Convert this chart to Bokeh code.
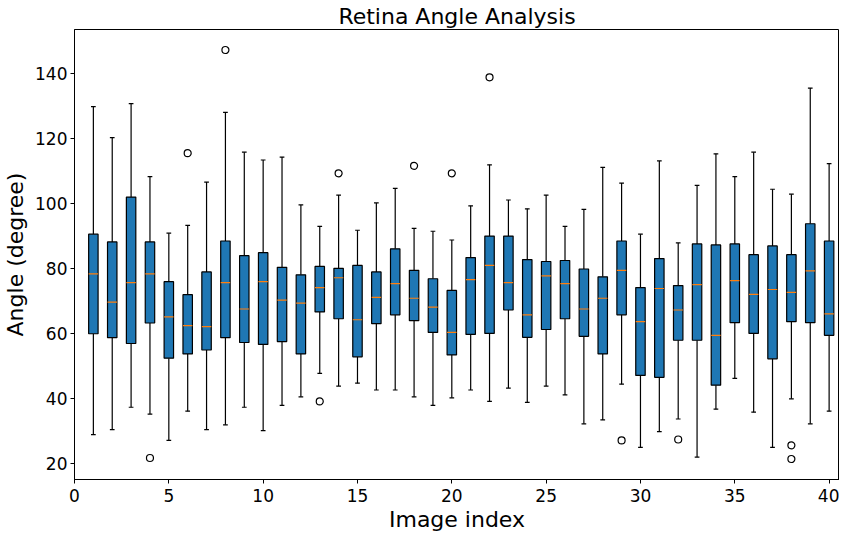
from bokeh.plotting import figure
from bokeh.models import Range1d, FixedTicker, Title
from bokeh.embed import file_html
from bokeh.resources import INLINE

positions = list(range(1, 41))
whisker_low = [29.0, 30.5, 37.4, 35.3, 27.2, 36.2, 30.5, 32.0, 37.4, 30.2,
               38.0, 40.6, 47.8, 43.9, 44.8, 42.7, 42.7, 40.6, 38.0, 40.3,
               42.7, 39.2, 43.3, 38.9, 43.9, 41.2, 32.3, 33.5, 44.5, 25.1,
               29.9, 33.8, 22.1, 36.8, 46.3, 35.9, 25.1, 40.0, 32.3, 36.2]
q1 = [60.0, 58.8, 57.0, 63.3, 52.5, 53.8, 55.0, 58.8, 57.3, 56.7,
      57.6, 53.8, 66.7, 64.6, 52.9, 63.1, 65.8, 64.0, 60.4, 53.5,
      59.8, 60.1, 67.3, 58.9, 61.3, 64.6, 59.2, 53.8, 65.8, 47.2,
      46.6, 58.0, 58.0, 44.2, 63.4, 60.1, 52.3, 63.7, 63.4, 59.5]
median = [78.4, 69.7, 75.7, 78.4, 65.2, 62.5, 62.2, 75.7, 67.6, 76.0,
          70.3, 69.4, 74.2, 77.2, 64.3, 71.2, 75.4, 70.9, 68.2, 60.4,
          76.6, 81.0, 75.7, 65.8, 77.8, 75.4, 67.6, 70.9, 79.5, 63.7,
          73.9, 67.3, 75.1, 59.5, 76.3, 72.1, 73.6, 72.7, 79.3, 66.1]
q3 = [90.6, 88.2, 102.0, 88.2, 76.0, 72.0, 79.0, 88.5, 84.0, 84.9,
      80.4, 78.1, 80.7, 80.1, 81.0, 79.0, 86.1, 79.5, 76.9, 73.3,
      83.4, 90.0, 90.0, 82.8, 82.2, 82.5, 79.9, 77.5, 88.5, 74.2,
      83.1, 74.8, 87.6, 87.3, 87.6, 84.3, 87.0, 84.3, 93.8, 88.5]
whisker_high = [129.8, 120.3, 130.7, 108.3, 90.9, 93.3, 106.6, 128.0, 115.8, 113.4,
                114.3, 99.6, 93.0, 102.6, 91.8, 100.2, 104.7, 92.4, 91.5, 88.8,
                99.3, 111.9, 101.1, 98.4, 102.6, 93.0, 98.2, 111.1, 106.3, 90.6,
                113.1, 87.9, 105.6, 115.3, 108.3, 115.8, 104.4, 102.9, 135.5, 112.3]
outlier_x = [4, 6, 8, 13, 14, 18, 20, 22, 29, 32, 38, 38]
outlier_y = [21.8, 115.5, 147.2, 39.2, 109.3, 111.6, 109.3, 138.8, 27.2, 27.5, 25.7, 21.5]
x_ticks = [0, 5, 10, 15, 20, 25, 30, 35, 40]
y_ticks = [20, 40, 60, 80, 100, 120, 140]

box_w = 0.5
cap_w = 0.25

p = figure(width=839, height=531, output_backend="svg", toolbar_location=None,
           x_range=Range1d(0, 40.55), y_range=Range1d(15.2, 153.5),
           title="Retina Angle Analysis",
           y_axis_label="Angle (degree)",
           min_border_left=0, min_border_right=0, min_border_top=0, min_border_bottom=0)

font = "DejaVu Sans"
p.title.text_font = font
p.title.text_font_size = "22px"
p.title.text_font_style = "normal"
p.title.align = "center"
p.title.text_color = "black"
p.title.standoff = 2
p.title.offset = 0

p.xgrid.visible = False
p.ygrid.visible = False
p.outline_line_color = "black"
p.outline_line_width = 1

for ax in (p.xaxis, p.yaxis):
    ax.axis_label_text_font = font
    ax.axis_label_text_font_size = "22px"
    ax.axis_label_text_font_style = "normal"
    ax.axis_label_text_color = "black"
    ax.major_label_text_font = font
    ax.major_label_text_font_size = "17px"
    ax.major_label_text_color = "black"
    ax.major_tick_in = 0
    ax.major_tick_out = 4
    ax.minor_tick_in = 0
    ax.minor_tick_out = 0
    ax.axis_line_color = "black"
    ax.major_tick_line_color = "black"
    ax.major_label_standoff = 3
    ax.axis_label_standoff = 4

p.xaxis.major_label_text_line_height = 1.0
p.xaxis.major_label_standoff = 5

p.xaxis.ticker = FixedTicker(ticks=x_ticks)
p.yaxis.ticker = FixedTicker(ticks=y_ticks)

# x axis title as a panel below the axis
xlabel = Title(text="Image index", align="center", text_font=font, text_font_size="22px",
               text_font_style="normal", text_color="black", standoff=0, offset=0,
               text_line_height=1.0)
p.add_layout(xlabel, "below")

# whiskers
p.segment(x0=positions, y0=q3, x1=positions, y1=whisker_high, line_color="black", line_width=1.2)
p.segment(x0=positions, y0=q1, x1=positions, y1=whisker_low, line_color="black", line_width=1.2)
# caps
p.segment(x0=[x - cap_w / 2 for x in positions], y0=whisker_high,
          x1=[x + cap_w / 2 for x in positions], y1=whisker_high, line_color="black", line_width=1.2)
p.segment(x0=[x - cap_w / 2 for x in positions], y0=whisker_low,
          x1=[x + cap_w / 2 for x in positions], y1=whisker_low, line_color="black", line_width=1.2)
# boxes
p.vbar(x=positions, width=box_w, bottom=q1, top=q3, fill_color="#1f77b4",
       line_color="black", line_width=1.2)
# medians
p.segment(x0=[x - box_w / 2 for x in positions], y0=median,
          x1=[x + box_w / 2 for x in positions], y1=median, line_color="#ff7f0e", line_width=1.2)
# outliers
p.scatter(x=outlier_x, y=outlier_y, marker="circle", size=7, fill_color=None,
          line_color="black", line_width=1.2)

open("out.html", "w").write(file_html(p, INLINE))
